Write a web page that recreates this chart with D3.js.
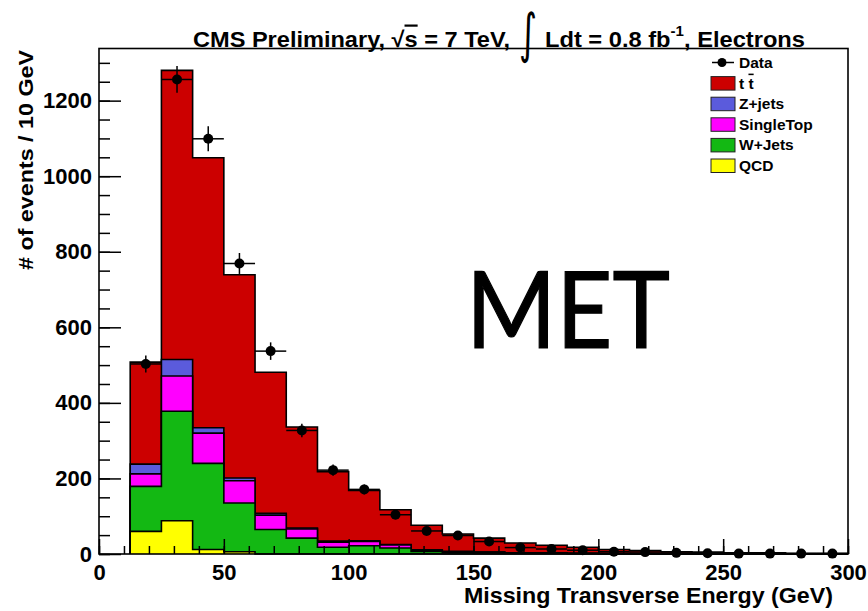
<!DOCTYPE html>
<html>
<head>
<meta charset="utf-8">
<script src="https://cdn.jsdelivr.net/npm/d3@7"></script>
<style>
  body { margin: 0; background: #fff; }
  svg { display: block; }
  text { font-family: "Liberation Sans", Arial, Helvetica, sans-serif; font-weight: bold; }
</style>
</head>
<body>
<svg id="chart"></svg>
<script>
// bin lower edges (GeV), 12.5 GeV wide
const binLow = [12.5, 25, 37.5, 50, 62.5, 75, 87.5, 100, 112.5, 125, 137.5, 150,
    162.5, 175, 187.5, 200, 212.5, 225, 237.5, 250, 262.5, 275, 287.5];
const binWidth = 12.5;

// MC components, per bin (not cumulative)
const qcd       = [60, 88, 12, 6, 0, 0, 0, 0, 0, 0, 0, 0, 0, 0, 0, 0, 0, 0, 0, 0, 0, 0, 0];
const wjets     = [119, 290, 228, 129, 65, 42, 18, 22, 16, 7, 4, 3, 2, 2, 1, 1, 0, 0, 0, 0, 0, 0, 0];
const singleTop = [33, 93, 80, 59, 38, 24, 13, 11, 8, 3, 2, 2, 1, 1, 1, 0, 0, 0, 0, 0, 0, 0, 0];
const zjets     = [26, 44, 14, 7, 5, 3, 3, 2, 1, 1, 1, 0, 0, 0, 0, 0, 0, 0, 0, 0, 0, 0, 0];
const ttbar     = [270, 765, 715, 538, 373, 267, 184, 133, 92, 65, 46, 37, 26, 20, 16, 11, 9, 6, 5, 3, 3, 2, 2];

// observed data
const dataCounts = [503, 1256, 1099, 769, 537, 327, 222, 171, 104, 61, 49, 33, 17, 13, 10, 6, 5, 3, 2, 1, 1, 1, 1];

const xTicks = [0, 50, 100, 150, 200, 250, 300];
const yTicks = [0, 200, 400, 600, 800, 1000, 1200];

const width = 868, height = 611;
const margin = { top: 48.5, right: 20, bottom: 57, left: 99 };

const svg = d3.select('#chart')
    .attr('width', width)
    .attr('height', height);

const xScale = d3.scaleLinear()
    .domain([0, 300])
    .range([margin.left, 848]);

const yScale = d3.scaleLinear()
    .domain([0, 1338])
    .range([554, margin.top]);

// stack order bottom -> top, drawn top-most cumulative first (like THStack)
const components = [
    { name: 'QCD', values: qcd, color: '#ffff00' },
    { name: 'W+Jets', values: wjets, color: '#13b813' },
    { name: 'SingleTop', values: singleTop, color: '#ff00ff' },
    { name: 'Z+jets', values: zjets, color: '#5b5bdc' },
    { name: 'ttbar', values: ttbar, color: '#cc0000' }
];

let running = binLow.map(() => 0);
components.forEach(c => {
    running = running.map((v, i) => v + c.values[i]);
    c.cumulative = running.slice();
});

// step outline of a histogram
const stepPath = vals => {
    const pts = [[binLow[0], 0]];
    vals.forEach((v, i) => {
        pts.push([binLow[i], v]);
        pts.push([binLow[i] + binWidth, v]);
    });
    pts.push([binLow[binLow.length - 1] + binWidth, 0]);
    return d3.line().x(d => xScale(d[0])).y(d => yScale(d[1]))(pts);
};

const histG = svg.append('g');
components.slice().reverse().forEach(c => {
    histG.append('path')
        .attr('d', stepPath(c.cumulative))
        .attr('fill', c.color)
        .attr('stroke', '#000')
        .attr('stroke-width', 1.6)
        .attr('stroke-linejoin', 'miter');
});

// axes (ROOT style: ticks point inward)
const xMinor = d3.range(0, 301, 10);
svg.append('g')
    .attr('transform', `translate(0, ${yScale(0)})`)
    .call(d3.axisBottom(xScale).tickValues(xMinor).tickSize(-8).tickFormat(''))
    .call(g => g.select('.domain').remove())
    .selectAll('line').attr('stroke-width', 1.5);

const xAxis = svg.append('g')
    .attr('transform', `translate(0, ${yScale(0)})`)
    .call(d3.axisBottom(xScale).tickValues(xTicks).tickSize(-15).tickPadding(10).tickFormat(d3.format('d')));
xAxis.select('.domain').remove();
xAxis.selectAll('line').attr('stroke-width', 1.5);
xAxis.selectAll('text')
    .style('font-size', '22px')
    .attr('fill', '#000');

const yMinor = d3.range(0, 1338, 50);
svg.append('g')
    .attr('transform', `translate(${xScale(0)}, 0)`)
    .call(d3.axisLeft(yScale).tickValues(yMinor).tickSize(-11).tickFormat(''))
    .call(g => g.select('.domain').remove())
    .selectAll('line').attr('stroke-width', 1.5);

const yAxis = svg.append('g')
    .attr('transform', `translate(${xScale(0)}, 0)`)
    .call(d3.axisLeft(yScale).tickValues(yTicks).tickSize(-22).tickPadding(7).tickFormat(d3.format('d')));
yAxis.select('.domain').remove();
yAxis.selectAll('line').attr('stroke-width', 1.5);
yAxis.selectAll('text')
    .style('font-size', '22px')
    .attr('fill', '#000');

// frame
svg.append('rect')
    .attr('x', xScale(0))
    .attr('y', yScale(1338))
    .attr('width', xScale(300) - xScale(0))
    .attr('height', yScale(0) - yScale(1338))
    .attr('fill', 'none')
    .attr('stroke', '#000')
    .attr('stroke-width', 1.6);

// data points with errors
const dataG = svg.append('g');
dataCounts.forEach((n, i) => {
    const cx = xScale(binLow[i] + binWidth / 2);
    const err = Math.sqrt(n);
    dataG.append('line')
        .attr('x1', xScale(binLow[i])).attr('x2', xScale(binLow[i] + binWidth))
        .attr('y1', yScale(n)).attr('y2', yScale(n))
        .attr('stroke', '#000').attr('stroke-width', 1.5);
    dataG.append('line')
        .attr('x1', cx).attr('x2', cx)
        .attr('y1', yScale(Math.max(n - err, 0))).attr('y2', yScale(n + err))
        .attr('stroke', '#000').attr('stroke-width', 1.5);
    dataG.append('circle')
        .attr('cx', cx).attr('cy', yScale(n))
        .attr('r', 5).attr('fill', '#000');
});

// title
const title1 = svg.append('text')
    .attr('x', 193).attr('y', 46.5)
    .style('font-size', '22px')
    .attr('textLength', 317).attr('lengthAdjust', 'spacingAndGlyphs');
title1.append('tspan').text('CMS Preliminary, \u221A');
title1.append('tspan').attr('text-decoration', 'overline').text('s');
title1.append('tspan').text(' = 7 TeV,');

// integral sign, stretched vertically
svg.append('text')
    .attr('transform', 'translate(519, 52) scale(1.15, 1.8)')
    .style('font-family', '"DejaVu Sans", sans-serif')
    .style('font-weight', 'normal')
    .style('font-size', '30px')
    .text('\u222B');

const title2 = svg.append('text')
    .attr('x', 545).attr('y', 46.5)
    .style('font-size', '22px')
    .attr('textLength', 260).attr('lengthAdjust', 'spacingAndGlyphs');
title2.append('tspan').text('Ldt = 0.8 fb');
title2.append('tspan').style('font-size', '14px').attr('dy', -11).text('-1');
title2.append('tspan').attr('dy', 11).text(', Electrons');

// axis titles
svg.append('text')
    .attr('x', 833).attr('y', 603)
    .attr('text-anchor', 'end')
    .style('font-size', '22px')
    .attr('textLength', 369).attr('lengthAdjust', 'spacingAndGlyphs')
    .text('Missing Transverse Energy (GeV)');

svg.append('text')
    .attr('transform', 'translate(33, 50) rotate(-90)')
    .attr('text-anchor', 'end')
    .style('font-size', '21px')
    .attr('textLength', 220).attr('lengthAdjust', 'spacingAndGlyphs')
    .text('# of events / 10 GeV');

// big label
svg.append('text')
    .attr('x', 466).attr('y', 348)
    .style('font-family', 'Lato, "Open Sans", sans-serif')
    .style('font-weight', 'normal')
    .style('font-size', '106px')
    .attr('stroke', '#000')
    .attr('stroke-width', 1.2)
    .attr('textLength', 204).attr('lengthAdjust', 'spacingAndGlyphs')
    .text('MET');

// legend
const legendItems = [
    { label: 'Data', type: 'marker' },
    { label: 't t', type: 'box', color: '#cc0000', bar: true },
    { label: 'Z+jets', type: 'box', color: '#5b5bdc' },
    { label: 'SingleTop', type: 'box', color: '#ff00ff' },
    { label: 'W+Jets', type: 'box', color: '#13b813' },
    { label: 'QCD', type: 'box', color: '#ffff00' }
];
const legend = svg.append('g').attr('transform', 'translate(710, 62.5)');
legendItems.forEach((d, i) => {
    const row = legend.append('g').attr('transform', `translate(0, ${i * 20.6})`);
    if (d.type === 'marker') {
        row.append('line').attr('x1', 2).attr('x2', 24).attr('y1', 0).attr('y2', 0)
            .attr('stroke', '#000').attr('stroke-width', 1.5);
        row.append('circle').attr('cx', 12).attr('cy', 0).attr('r', 4.5).attr('fill', '#000');
    } else {
        row.append('rect').attr('x', 1).attr('y', -6.5).attr('width', 24).attr('height', 13.5)
            .attr('fill', d.color).attr('stroke', '#222').attr('stroke-width', 1);
    }
    const t = row.append('text')
        .attr('x', 29).attr('y', 5.5)
        .style('font-size', '15.5px');
    if (d.bar) {
        t.append('tspan').text('t ');
        t.append('tspan').attr('text-decoration', 'overline').text('t');
    } else {
        t.text(d.label);
    }
});
</script>
</body>
</html>
